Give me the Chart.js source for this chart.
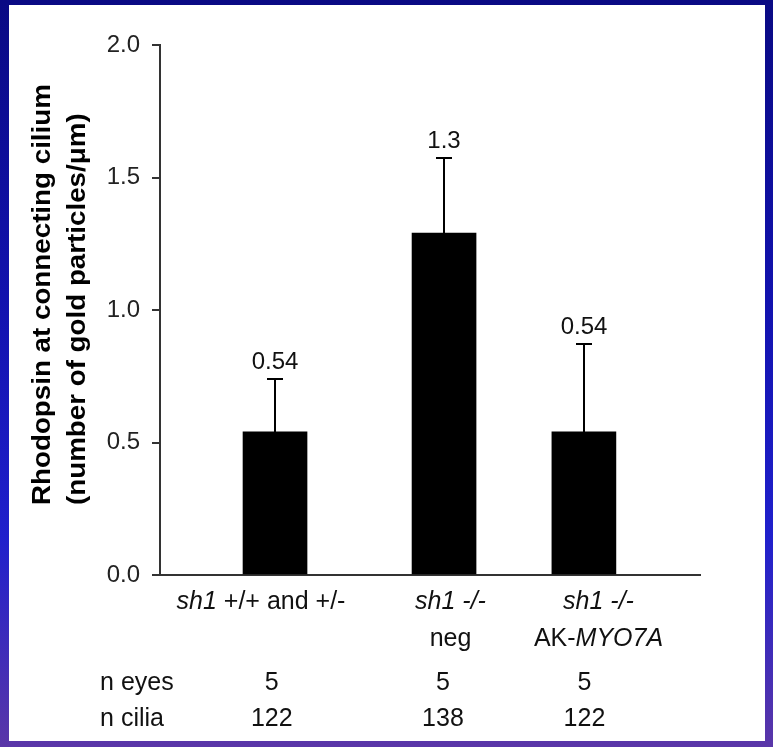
<!DOCTYPE html>
<html>
<head>
<meta charset="utf-8">
<script src="https://cdn.jsdelivr.net/npm/chart.js@4.4.1/dist/chart.umd.min.js"></script>
<style>
html, body { margin: 0; padding: 0; }
body {
    width: 773px; height: 747px; overflow: hidden; position: relative;
    background: linear-gradient(180deg, #0a0a84 0%, #1212ae 40%, #2020cc 72%, #5a36a8 100%);
}
#panel { position: absolute; left: 9px; top: 5px; width: 756px; height: 736px; background: #fff; }
#wrap { position: absolute; left: 0; top: 0; width: 773px; height: 747px; }
</style>
</head>
<body>
<div id="panel"></div>
<div id="wrap"><canvas id="chart"></canvas></div>
<script>
// ---- data ----
const groups = ["sh1 +/+ and +/-", "sh1 -/- neg", "sh1 -/- AK-MYO7A"];
const rhodopsinMean = [0.54, 1.29, 0.54];
const rhodopsinErr = [0.20, 0.285, 0.33];
const meanLabels = ["0.54", "1.3", "0.54"];
const nEyes = [5, 5, 5];
const nCilia = [122, 138, 122];
const yTicks = [0, 0.5, 1.0, 1.5, 2.0];
const titleLines = ["Rhodopsin at connecting cilium", "(number of gold particles/\u03bcm)"];

// group label lines, [text, italic]
const labelLine1 = [
    [["sh1", true], [" +/+ and +/-", false]],
    [["sh1 -/-", true]],
    [["sh1 -/-", true]]
];
const labelLine2 = [
    [],
    [["neg", false]],
    [["AK-", false], ["MYO7A", true]]
];

// ---- layout (x scale runs 0..100) ----
const barSlots = [21.3, 52.6, 78.5];
const labelSlots = [18.7, 53.8, 81.2];
const tableSlots = [20.7, 52.4, 78.6];
const rowLabelSlot = -11.1;

const FONT = '"Liberation Sans", Arial, Helvetica, sans-serif';

function drawRich(ctx, parts, cx, cy, size) {
    const plain = size + "px " + FONT;
    const ital = "italic " + plain;
    let w = 0;
    parts.forEach(p => {
        ctx.font = p[1] ? ital : plain;
        w += ctx.measureText(p[0]).width;
    });
    let xx = cx - w / 2;
    ctx.textAlign = "left";
    ctx.textBaseline = "middle";
    parts.forEach(p => {
        ctx.font = p[1] ? ital : plain;
        ctx.fillText(p[0], xx, cy);
        xx += ctx.measureText(p[0]).width;
    });
}

const annotate = {
    id: "annotate",
    afterDatasetsDraw(chart) {
        const { ctx, chartArea } = chart;
        const x = chart.scales.x;
        const y = chart.scales.y;
        ctx.save();

        // error bars (upper only) and value labels
        ctx.strokeStyle = "#000";
        ctx.lineWidth = 2;
        ctx.fillStyle = "#111";
        barSlots.forEach((slot, i) => {
            const px = Math.round(x.getPixelForValue(slot));
            const base = y.getPixelForValue(rhodopsinMean[i]);
            const top = Math.round(y.getPixelForValue(rhodopsinMean[i] + rhodopsinErr[i]));
            ctx.beginPath();
            ctx.moveTo(px, base);
            ctx.lineTo(px, top);
            ctx.moveTo(px - 8, top);
            ctx.lineTo(px + 8, top);
            ctx.stroke();

            ctx.font = "24px " + FONT;
            ctx.textAlign = "center";
            ctx.textBaseline = "alphabetic";
            ctx.fillText(meanLabels[i], px, top - 10);
        });

        // group labels under the axis
        const b = chartArea.bottom;
        labelSlots.forEach((slot, i) => {
            const px = x.getPixelForValue(slot);
            drawRich(ctx, labelLine1[i], px, b + 27, 25);
            if (labelLine2[i].length)
                drawRich(ctx, labelLine2[i], px, b + 64, 25);
        });

        // n table
        ctx.font = "25px " + FONT;
        ctx.textBaseline = "middle";
        ctx.textAlign = "left";
        const rx = x.getPixelForValue(rowLabelSlot);
        ctx.fillText("n eyes", rx, b + 108);
        ctx.fillText("n cilia", rx, b + 144);
        ctx.textAlign = "center";
        tableSlots.forEach((slot, i) => {
            const px = x.getPixelForValue(slot);
            ctx.fillText(String(nEyes[i]), px, b + 108);
            ctx.fillText(String(nCilia[i]), px, b + 144);
        });

        // y title, two bold lines (slightly stretched along their length)
        ctx.translate(chartArea.left - 117, b - 70);
        ctx.rotate(-Math.PI / 2);
        ctx.scale(1.11, 1);
        ctx.font = "bold 25px " + FONT;
        ctx.textAlign = "left";
        ctx.textBaseline = "middle";
        ctx.fillStyle = "#000";
        ctx.fillText(titleLines[0], 0, 0);
        ctx.fillText(titleLines[1], 0, 35);

        ctx.restore();
    }
};

new Chart(document.getElementById("chart"), {
    type: "bar",
    data: {
        datasets: [{
            label: "Rhodopsin",
            data: barSlots.map((s, i) => ({ x: s, y: rhodopsinMean[i] })),
            backgroundColor: "#000",
            borderWidth: 0,
            barThickness: 64
        }]
    },
    options: {
        responsive: true,
        maintainAspectRatio: false,
        animation: false,
        layout: {
            padding: { left: 98, right: 73, top: 45, bottom: 172 }
        },
        plugins: {
            legend: { display: false },
            tooltip: { enabled: false }
        },
        scales: {
            x: {
                type: "linear",
                min: 0,
                max: 100,
                offset: false,
                grid: { display: false, drawTicks: false },
                border: { display: true, color: "#333", width: 2 },
                ticks: { display: false },
                afterFit(scale) { scale.height = 0; }
            },
            y: {
                min: 0,
                max: 2,
                grid: {
                    display: true,
                    drawOnChartArea: false,
                    drawTicks: true,
                    tickLength: 8,
                    color: "#333",
                    lineWidth: 2
                },
                border: { display: true, color: "#333", width: 2 },
                afterBuildTicks(scale) {
                    scale.ticks = yTicks.map(v => ({ value: v }));
                },
                ticks: {
                    padding: 12,
                    color: "#222",
                    font: { family: FONT, size: 24 },
                    callback: v => v.toFixed(1)
                },
                afterFit(scale) { scale.width = 62; }
            }
        }
    },
    plugins: [annotate]
});
</script>
</body>
</html>
